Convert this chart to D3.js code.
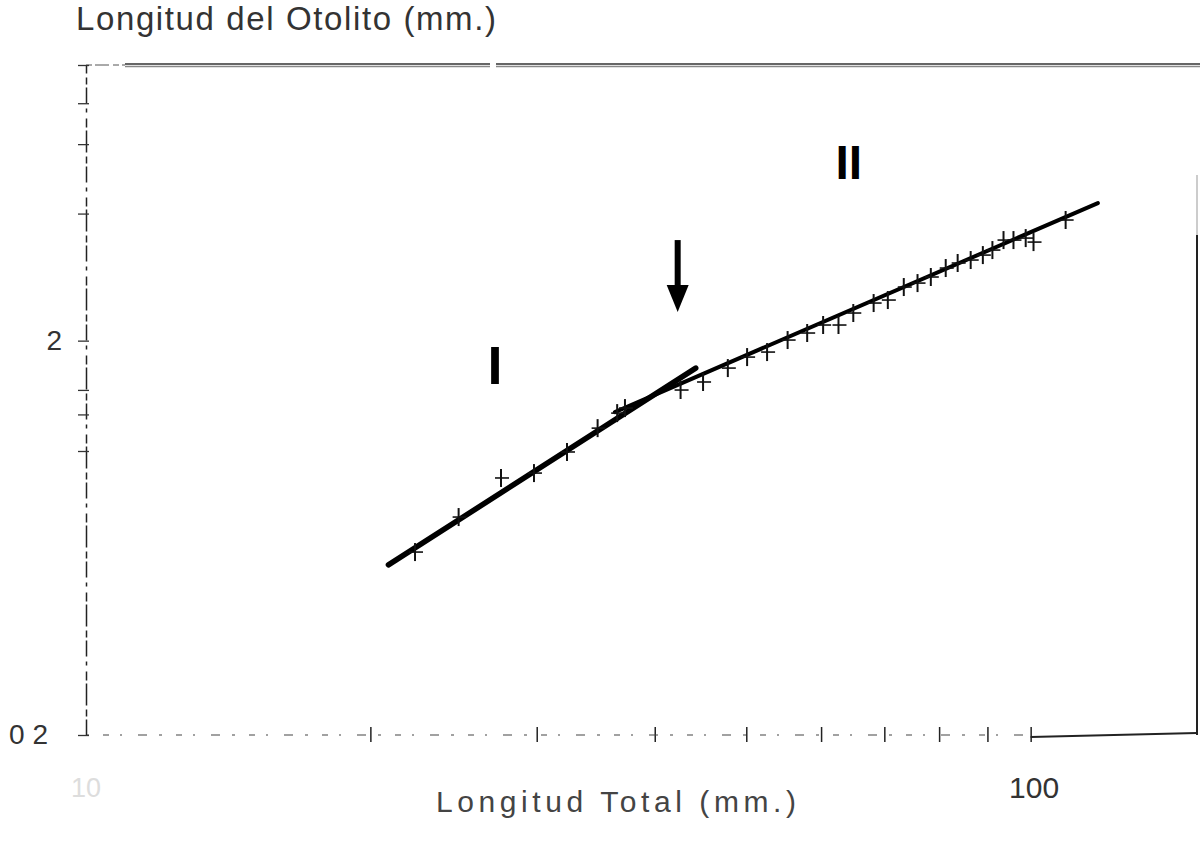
<!DOCTYPE html>
<html>
<head>
<meta charset="utf-8">
<script src="https://cdn.jsdelivr.net/npm/d3@7"></script>
<style>
  html, body { margin: 0; padding: 0; background: #fff; }
  svg { display: block; }
  text { font-family: "Liberation Sans", Arial, sans-serif; }
</style>
</head>
<body>
<svg id="chart" width="1200" height="841"></svg>
<script>
// ---- Data ----
const totalLength = [22.3, 24.8, 27.5, 29.8, 32.3, 34.8, 36.5, 37.2,
  42.6, 45.0, 47.8, 50.1, 52.6, 55.3, 58.0, 60.3, 62.6, 64.9, 68.2, 70.6,
  73.4, 75.9, 78.4, 81.3, 83.7, 86.4, 89.0, 91.1, 93.6, 95.9, 98.8, 100.7, 108.9];
const otolithLength = [0.582, 0.714, 0.897, 0.923, 1.044, 1.200, 1.310, 1.349,
  1.499, 1.571, 1.704, 1.817, 1.871, 2.007, 2.091, 2.191, 2.191, 2.350, 2.491, 2.535,
  2.735, 2.799, 2.900, 3.056, 3.147, 3.202, 3.296, 3.394, 3.598, 3.598, 3.640, 3.556, 4.045];
// fitted lines (segment I and segment II), endpoints
const lineI_x = [20.9, 44.2];
const lineI_y = [0.540, 1.704];
const lineII_x = [36.3, 117.8];
const lineII_y = [1.318, 4.466];
// arrow marking the change point
const arrowX = 42.3;
const arrowY = [3.598, 2.767, 2.363]; // top, head start, tip
// labels
const segLabels = [{t: "I", x: 27.1, y: 1.735, size: 54}, {t: "II", x: 64.2, y: 5.67, size: 48}];
const xTicks = [20, 30, 40, 50, 60, 70, 80, 90, 100];
const xTickLabels = {10: "10", 100: "100"};
const yTicks = [10, 8, 6.3, 4.2, 2, 1.5, 1.3, 1.05, 0.2];
const yTickLabels = {2: "2", 0.2: "0 2"};
const title = "Longitud del Otolito (mm.)";
const xTitle = "Longitud Total (mm.)";

// ---- Scales ----
const svg = d3.select("#chart");
const x = d3.scaleLog().domain([10, 150]).range([86, 1197]);
const y = d3.scaleLog().domain([0.2, 10]).range([735, 65]);

// ---- Frame ----
svg.append("line").attr("x1", x(10)).attr("x2", 125).attr("y1", y(10)).attr("y2", y(10))
  .attr("stroke", "#555").attr("stroke-width", 1).attr("stroke-dasharray", "6,3,14,4");
[[125, 490], [496, 1200]].forEach(([a, b]) => {
  svg.append("line").attr("x1", a).attr("x2", b).attr("y1", y(10) - 1).attr("y2", y(10) - 1)
    .attr("stroke", "#333").attr("stroke-width", 1.5);
  svg.append("line").attr("x1", a).attr("x2", b).attr("y1", y(10) + 1.5).attr("y2", y(10) + 1.5)
    .attr("stroke", "#888").attr("stroke-width", 1.5);
});
svg.append("line").attr("x1", x(150)).attr("x2", x(150)).attr("y1", 175).attr("y2", 235)
  .attr("stroke", "#bbb").attr("stroke-width", 1.5);
svg.append("line").attr("x1", x(150)).attr("x2", x(150)).attr("y1", 235).attr("y2", y(0.2))
  .attr("stroke", "#222").attr("stroke-width", 2);

// ---- X axis ----
const xAxis = svg.append("g").attr("transform", `translate(0,${y(0.2)})`)
  .call(d3.axisBottom(x).tickValues(xTicks).tickSize(7).tickSizeOuter(0)
    .tickFormat(d => xTickLabels[d] || ""));
xAxis.select(".domain").remove();
xAxis.selectAll(".tick line").attr("y1", -8).attr("y2", 7).attr("stroke", "#222").attr("stroke-width", 1.5);
xAxis.selectAll(".tick text").attr("y", 63).attr("dy", 0).attr("x", 3).attr("font-size", 30).attr("fill", "#333")
  .attr("font-family", "Liberation Sans, Arial, sans-serif");
svg.append("line").attr("x1", x(10)).attr("x2", x(100)).attr("y1", y(0.2)).attr("y2", y(0.2))
  .attr("stroke", "#444").attr("stroke-width", 1.2).attr("stroke-dasharray", "3,14,6,11,2,16,9,12");
svg.append("line").attr("x1", x(100)).attr("x2", x(150)).attr("y1", y(0.2) + 2).attr("y2", y(0.2) - 2)
  .attr("stroke", "#222").attr("stroke-width", 1.8);
svg.append("text").attr("x", x(10)).attr("y", 797).attr("text-anchor", "middle")
  .attr("font-size", 27).attr("fill", "#ddd").text(xTickLabels[10]);

// ---- Y axis ----
const yAxis = svg.append("g").attr("transform", `translate(${x(10)},0)`)
  .call(d3.axisLeft(y).tickValues(yTicks).tickSize(7).tickSizeOuter(0)
    .tickFormat(d => yTickLabels[d] || ""));
yAxis.select(".domain").attr("stroke", "#222").attr("stroke-width", 1.5)
  .attr("stroke-dasharray", "16,3,7,4,22,3,9,6,4,5");
yAxis.selectAll(".tick line").attr("x1", -8).attr("x2", 3).attr("stroke", "#333").attr("stroke-width", 1.3);
yAxis.selectAll(".tick text").attr("font-size", 28).attr("fill", "#333")
  .attr("font-family", "Liberation Sans, Arial, sans-serif")
  .attr("x", d => d === 0.2 ? -38 : -24);

// ---- Fitted lines ----
const lineGen = d3.line().x(d => x(d[0])).y(d => y(d[1]));
svg.append("path").datum(d3.zip(lineI_x, lineI_y)).attr("d", lineGen)
  .attr("stroke", "#000").attr("stroke-width", 5.5).attr("stroke-linecap", "round").attr("fill", "none");
svg.append("path").datum(d3.zip(lineII_x, lineII_y)).attr("d", lineGen)
  .attr("stroke", "#000").attr("stroke-width", 4).attr("stroke-linecap", "round").attr("fill", "none");

// ---- Data crosses ----
const pts = d3.zip(totalLength, otolithLength);
const g = svg.append("g");
g.selectAll("line.h").data(pts).join("line").attr("class", "h")
  .attr("x1", d => x(d[0]) - 6).attr("x2", d => x(d[0]) + 8)
  .attr("y1", d => y(d[1])).attr("y2", d => y(d[1]))
  .attr("stroke", "#111").attr("stroke-width", 1.6);
g.selectAll("line.v").data(pts).join("line").attr("class", "v")
  .attr("x1", d => x(d[0])).attr("x2", d => x(d[0]))
  .attr("y1", d => y(d[1]) - 9).attr("y2", d => y(d[1]) + 9)
  .attr("stroke", "#111").attr("stroke-width", 2);

// ---- Arrow ----
const ax = x(arrowX);
svg.append("line").attr("x1", ax).attr("x2", ax).attr("y1", y(arrowY[0])).attr("y2", y(arrowY[1]) + 2)
  .attr("stroke", "#000").attr("stroke-width", 6);
svg.append("path")
  .attr("d", `M${ax - 11},${y(arrowY[1])} L${ax + 11},${y(arrowY[1])} L${ax},${y(arrowY[2])} Z`)
  .attr("fill", "#000");

// ---- Segment labels ----
svg.selectAll("text.seg").data(segLabels).join("text").attr("class", "seg")
  .attr("x", d => x(d.x)).attr("y", d => y(d.y)).attr("dy", "0.36em")
  .attr("text-anchor", "middle").attr("font-weight", "bold").attr("font-size", d => d.size)
  .attr("fill", "#000").text(d => d.t);

// ---- Titles ----
svg.append("text").attr("x", 76).attr("y", 30).attr("font-size", 33).attr("fill", "#333")
  .attr("textLength", 420).attr("lengthAdjust", "spacing").text(title);
svg.append("text").attr("x", 436).attr("y", 812).attr("font-size", 30).attr("fill", "#444")
  .attr("textLength", 360).attr("lengthAdjust", "spacing").text(xTitle);
</script>
</body>
</html>
